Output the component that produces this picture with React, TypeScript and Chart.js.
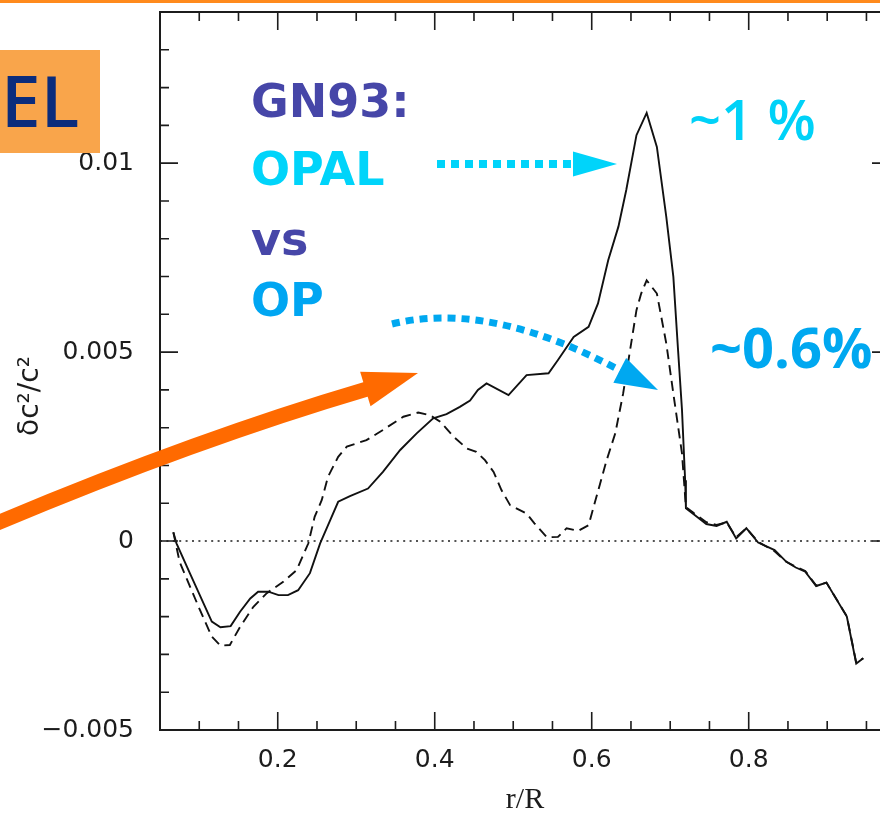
import { useEffect, useRef } from "react";
import { Chart, registerables } from "chart.js";

Chart.register(...registerables);

// Relative squared sound-speed difference, GN93 mixture: OPAL (solid) and OP (dashed) opacities
const R_OPAL = [
  0.067, 0.071, 0.088, 0.116, 0.127, 0.14, 0.152, 0.165, 0.175, 0.188, 0.201, 0.213, 0.226,
  0.241, 0.254, 0.267, 0.277, 0.292, 0.315, 0.334, 0.356, 0.377, 0.398, 0.415, 0.432, 0.445,
  0.455, 0.466, 0.494, 0.517, 0.545, 0.557, 0.577, 0.596, 0.608, 0.621, 0.634, 0.644, 0.657,
  0.67, 0.683, 0.695, 0.704, 0.71, 0.715, 0.719, 0.72, 0.734, 0.746, 0.759, 0.772, 0.784,
  0.797, 0.812, 0.833, 0.848, 0.86, 0.872, 0.886, 0.899, 0.925, 0.937, 0.946,
];
const DC2_OPAL = [
  0.00023, -0.00006, -0.00085, -0.00213, -0.00228, -0.00225, -0.00187, -0.00152, -0.00134,
  -0.00134, -0.00143, -0.00143, -0.0013, -0.00085, -0.00006, 0.00056, 0.00104, 0.00119,
  0.00139, 0.00183, 0.00241, 0.00285, 0.00325, 0.00336, 0.00355, 0.00372, 0.004, 0.00417,
  0.00386, 0.00439, 0.00444, 0.00479, 0.0054, 0.00567, 0.00629, 0.00743, 0.00832, 0.00929,
  0.01074, 0.01133, 0.01043, 0.00858, 0.00699, 0.00505, 0.00347, 0.00161, 0.00087, 0.00064,
  0.00045, 0.0004, 0.00051, 0.00007, 0.00034, -0.00004, -0.00024, -0.00055, -0.0007,
  -0.00081, -0.00119, -0.0011, -0.002, -0.00324, -0.0031,
];

const R_OP = [
  0.067, 0.075, 0.101, 0.116, 0.127, 0.139, 0.152, 0.169, 0.186, 0.207, 0.224, 0.239, 0.247,
  0.256, 0.264, 0.277, 0.288, 0.313, 0.334, 0.36, 0.379, 0.394, 0.407, 0.424, 0.441, 0.453,
  0.464, 0.475, 0.485, 0.496, 0.517, 0.527, 0.543, 0.557, 0.568, 0.583, 0.596, 0.606, 0.619,
  0.63, 0.64, 0.657, 0.663, 0.67, 0.683, 0.695, 0.704, 0.715, 0.72, 0.73, 0.746, 0.759,
  0.772, 0.784, 0.797, 0.812, 0.833, 0.848, 0.86, 0.872, 0.886, 0.899, 0.925, 0.937, 0.946,
];
const DC2_OP = [
  0.00023, -0.00055, -0.00183, -0.00253, -0.00277, -0.00275, -0.00227, -0.00174, -0.00138,
  -0.00108, -0.00077, -0.00006, 0.00064, 0.00108, 0.0017, 0.00223, 0.0025, 0.00267, 0.00294,
  0.00329, 0.0034, 0.00333, 0.00316, 0.00276, 0.00245, 0.00236, 0.00214, 0.00183, 0.00135,
  0.00095, 0.00073, 0.00047, 0.0001, 0.00011, 0.00034, 0.00027, 0.00042, 0.00117, 0.00214,
  0.00285, 0.0039, 0.00611, 0.00655, 0.0069, 0.00655, 0.00523, 0.0039, 0.00232, 0.0009,
  0.00074, 0.0005, 0.00043, 0.00049, 0.0001, 0.00034, -0.00002, -0.00027, -0.00055,
  -0.00068, -0.00079, -0.00118, -0.0011, -0.00199, -0.00322, -0.0031,
];

const X_RANGE = [0.05, 0.98];
const Y_RANGE = [-0.005, 0.014];
const X_TICKS = [0.2, 0.4, 0.6, 0.8];
const X_TICK_LABELS = ["0.2", "0.4", "0.6", "0.8"];
const Y_TICKS = [-0.005, 0, 0.005, 0.01];
const Y_TICK_LABELS = ["\u22120.005", "0", "0.005", "0.01"];
const X_MINOR = [0.1, 0.15, 0.25, 0.3, 0.35, 0.45, 0.5, 0.55, 0.65, 0.7, 0.75, 0.85, 0.9, 0.95];
const Y_MINOR = [
  -0.004, -0.003, -0.002, -0.001, 0.001, 0.002, 0.003, 0.004, 0.006, 0.007, 0.008, 0.009,
  0.011, 0.012, 0.013,
];

const AXIS_COLOR = "#1c1c1c";
const TICK_FONT = { family: "'DejaVu Sans', sans-serif", size: 25 };

const toPoints = (xs: number[], ys: number[]) => xs.map((x, i) => ({ x, y: ys[i] }));

function arrowHead(
  ctx: CanvasRenderingContext2D,
  tip: [number, number],
  from: [number, number],
  len: number,
  half: number,
  color: string
) {
  const dx = tip[0] - from[0];
  const dy = tip[1] - from[1];
  const d = Math.hypot(dx, dy);
  const ux = dx / d;
  const uy = dy / d;
  const bx = tip[0] - ux * len;
  const by = tip[1] - uy * len;
  ctx.fillStyle = color;
  ctx.beginPath();
  ctx.moveTo(tip[0], tip[1]);
  ctx.lineTo(bx - uy * half, by + ux * half);
  ctx.lineTo(bx + uy * half, by - ux * half);
  ctx.closePath();
  ctx.fill();
}

const framePlugin = {
  id: "plotFrame",
  beforeDatasetsDraw(chart: any) {
    const { ctx, chartArea, scales } = chart;
    const y0 = scales.y.getPixelForValue(0);
    ctx.save();
    ctx.strokeStyle = AXIS_COLOR;
    ctx.lineWidth = 1.5;
    ctx.setLineDash([2, 4.4]);
    ctx.beginPath();
    ctx.moveTo(chartArea.left, y0);
    ctx.lineTo(chartArea.right, y0);
    ctx.stroke();
    ctx.restore();
  },
  afterDatasetsDraw(chart: any) {
    const { ctx, chartArea: a, scales } = chart;
    const major = 18;
    const minor = 9;
    ctx.save();
    ctx.strokeStyle = AXIS_COLOR;
    ctx.lineWidth = 2;
    ctx.strokeRect(a.left, a.top, a.right - a.left, a.bottom - a.top);
    ctx.lineWidth = 1.6;
    ctx.beginPath();
    const xTick = (v: number, len: number) => {
      const px = scales.x.getPixelForValue(v);
      ctx.moveTo(px, a.bottom);
      ctx.lineTo(px, a.bottom - len);
      ctx.moveTo(px, a.top);
      ctx.lineTo(px, a.top + len);
    };
    const yTick = (v: number, len: number) => {
      const py = scales.y.getPixelForValue(v);
      ctx.moveTo(a.left, py);
      ctx.lineTo(a.left + len, py);
      ctx.moveTo(a.right, py);
      ctx.lineTo(a.right - len, py);
    };
    X_TICKS.forEach((v) => xTick(v, major));
    X_MINOR.forEach((v) => xTick(v, minor));
    Y_TICKS.forEach((v) => yTick(v, major));
    Y_MINOR.forEach((v) => yTick(v, minor));
    ctx.stroke();

    // vertical axis title
    ctx.fillStyle = AXIS_COLOR;
    ctx.font = "28px 'DejaVu Sans', sans-serif";
    ctx.textAlign = "center";
    ctx.textBaseline = "middle";
    ctx.translate(31, 396);
    ctx.rotate(-Math.PI / 2);
    ctx.fillText("\u03b4c\u00b2/c\u00b2", 0, 0);
    ctx.restore();
  },
  afterDraw(chart: any) {
    const { ctx, width } = chart;
    ctx.save();

    // header rule
    ctx.fillStyle = "#ff8a1c";
    ctx.fillRect(0, 0, width, 3);

    // title tab
    ctx.fillStyle = "#f9a54b";
    ctx.fillRect(0, 50, 100, 103);
    ctx.fillStyle = "#0b2c7c";
    ctx.font = "600 71px 'Open Sans', sans-serif";
    ctx.textAlign = "left";
    ctx.textBaseline = "alphabetic";
    ctx.fillText("EL", 1, 127);

    // legend words
    ctx.font = "700 46px 'DejaVu Sans', sans-serif";
    ctx.fillStyle = "#4646a8";
    ctx.fillText("GN93:", 251, 117);
    ctx.fillStyle = "#00d4fa";
    ctx.fillText("OPAL", 251, 185);
    ctx.fillStyle = "#4646a8";
    ctx.fillText("vs", 251, 255);
    ctx.fillStyle = "#00a6f2";
    ctx.fillText("OP", 251, 316);

    ctx.font = "600 56px 'Open Sans', sans-serif";
    ctx.fillStyle = "#00d2f8";
    ctx.fillText("~1 %", 689, 140);
    ctx.font = "700 56px 'Open Sans', sans-serif";
    ctx.fillStyle = "#00a8f0";
    ctx.fillText("~0.6%", 710, 368);

    // dotted pointer to the OPAL peak
    ctx.strokeStyle = "#00d4fa";
    ctx.lineWidth = 8;
    ctx.setLineDash([8, 6]);
    ctx.beginPath();
    ctx.moveTo(437, 164);
    ctx.lineTo(575, 164);
    ctx.stroke();
    ctx.setLineDash([]);
    arrowHead(ctx, [617, 164], [437, 164], 44, 12.5, "#00d4fa");

    // curved dotted pointer to the OP peak
    ctx.strokeStyle = "#00a8f0";
    ctx.lineWidth = 7;
    ctx.setLineDash([8, 6]);
    ctx.beginPath();
    ctx.moveTo(392, 324);
    ctx.bezierCurveTo(465, 306, 545, 330, 621, 371);
    ctx.stroke();
    ctx.setLineDash([]);
    arrowHead(ctx, [658, 390], [620, 370.5], 43, 14, "#00a8f0");

    // thick orange pointer
    ctx.strokeStyle = "#ff6a00";
    ctx.lineWidth = 15;
    ctx.beginPath();
    ctx.moveTo(-10, 526);
    ctx.quadraticCurveTo(194, 440, 367, 389);
    ctx.stroke();
    arrowHead(ctx, [418, 373], [365, 389], 55, 18, "#ff6a00");

    ctx.restore();
  },
};

export default function App() {
  const canvasRef = useRef<HTMLCanvasElement | null>(null);

  useEffect(() => {
    const canvas = canvasRef.current;
    if (!canvas) return;
    const chart = new Chart(canvas, {
      type: "line",
      data: {
        datasets: [
          {
            label: "OPAL",
            data: toPoints(R_OPAL, DC2_OPAL),
            borderColor: "#111",
            borderWidth: 1.9,
            pointRadius: 0,
            tension: 0,
            fill: false,
          },
          {
            label: "OP",
            data: toPoints(R_OP, DC2_OP),
            borderColor: "#111",
            borderWidth: 1.9,
            borderDash: [10, 6],
            pointRadius: 0,
            tension: 0,
            fill: false,
          },
        ],
      },
      options: {
        animation: false,
        responsive: false,
        devicePixelRatio: 1,
        layout: { autoPadding: false, padding: { left: 0, right: 10, top: 12, bottom: 0 } },
        plugins: { legend: { display: false }, tooltip: { enabled: false } },
        scales: {
          x: {
            type: "linear",
            min: X_RANGE[0],
            max: X_RANGE[1],
            grid: { display: false },
            border: { display: false },
            afterBuildTicks: (s: any) => {
              s.ticks = X_TICKS.map((value) => ({ value }));
            },
            afterFit: (s: any) => {
              s.height = 83;
              s.paddingLeft = 0;
              s.paddingRight = 0;
            },
            ticks: {
              autoSkip: false,
              maxRotation: 0,
              padding: 7,
              color: AXIS_COLOR,
              font: TICK_FONT,
              callback: (_v: any, i: number) => X_TICK_LABELS[i],
            },
            title: {
              display: true,
              text: "r/R",
              color: AXIS_COLOR,
              font: { family: "'Liberation Serif', serif", size: 30, lineHeight: 1 },
              padding: { top: 0, bottom: -2 },
            },
          },
          y: {
            type: "linear",
            min: Y_RANGE[0],
            max: Y_RANGE[1],
            grid: { display: false },
            border: { display: false },
            afterBuildTicks: (s: any) => {
              s.ticks = Y_TICKS.map((value) => ({ value }));
            },
            afterFit: (s: any) => {
              s.width = 160;
              s.paddingTop = 0;
              s.paddingBottom = 0;
            },
            ticks: {
              autoSkip: false,
              padding: 18,
              color: AXIS_COLOR,
              font: TICK_FONT,
              callback: (_v: any, i: number) => Y_TICK_LABELS[i],
            },
          },
        },
      },
      plugins: [framePlugin],
    });
    return () => chart.destroy();
  }, []);

  return (
    <div
      style={{
        position: "fixed",
        left: 0,
        top: 0,
        width: 880,
        height: 813,
        overflow: "hidden",
        background: "#fff",
      }}
    >
      <canvas ref={canvasRef} width={900} height={813} style={{ display: "block" }} />
    </div>
  );
}
